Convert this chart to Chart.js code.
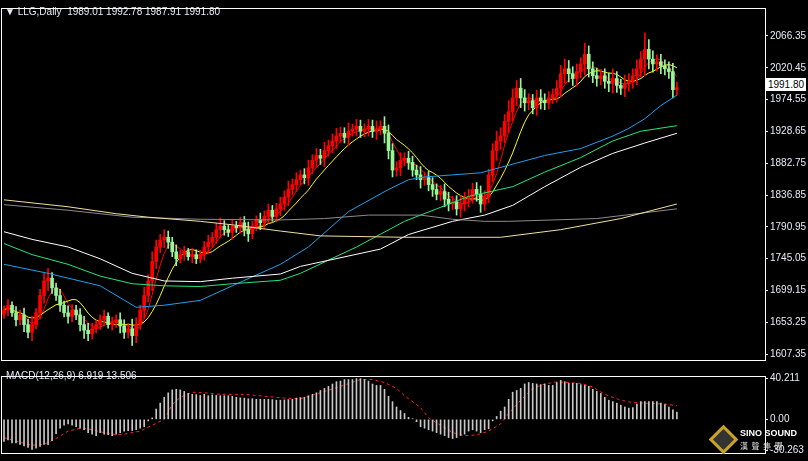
<!DOCTYPE html>
<html>
<head>
<meta charset="utf-8">
<script src="https://cdn.jsdelivr.net/npm/chart.js@4"></script>
<style>
  body { margin: 0; background: #000; width: 808px; height: 461px; overflow: hidden; position: relative; font-family: "Liberation Sans", sans-serif; }
  canvas { position: absolute; left: 0; }
  .lbl { position: absolute; color: #e6ecf5; font-size: 10px; white-space: pre; }
</style>
</head>
<body>
<canvas id="priceChart" width="808" height="368" style="top:0"></canvas>
<canvas id="macdChart" width="808" height="93" style="top:368px"></canvas>
<div class="lbl" style="left:5px;top:6px">▼ LLG,Daily  1989.01 1992.78 1987.91 1991.80</div>
<div class="lbl" style="left:6px;top:370px">MACD(12,26,9) 6.919 13.506</div>
<div style="position:absolute;left:766px;top:78px;width:40px;height:13px;background:#fff;color:#000;font-size:10px;line-height:13px;text-align:center">1991.80</div>
<div style="position:absolute;left:713px;top:429px;width:15px;height:15px;transform:rotate(45deg);border:3px solid #c9a227;background:#333"></div>
<div class="lbl" style="left:740px;top:428px;font-weight:bold;font-size:9px;color:#fff">SINO SOUND</div>
<div class="lbl" style="left:740px;top:440px;font-size:8px;color:#ddd;font-family:'Noto Sans CJK TC'">漢  聲  集  團</div>
<script>
// daily closes
const closes = [1671,1678,1667,1657,1664,1650,1639,1650,1667,1692,
  1713,1717,1703,1692,1678,1667,1662,1671,1664,1650,
  1642,1637,1644,1650,1657,1662,1650,1653,1657,1648,
  1639,1644,1634,1650,1671,1692,1713,1741,1762,1772,
  1776,1769,1755,1745,1751,1755,1748,1751,1745,1751,
  1762,1769,1776,1787,1792,1787,1783,1792,1790,1797,
  1787,1781,1792,1801,1797,1806,1815,1806,1817,1824,
  1834,1845,1852,1859,1866,1862,1876,1887,1894,1890,
  1901,1908,1915,1922,1926,1920,1929,1932,1936,1929,
  1932,1936,1929,1932,1936,1926,1901,1873,1876,1887,
  1890,1884,1873,1866,1859,1862,1852,1845,1838,1842,
  1831,1824,1827,1817,1824,1831,1834,1845,1838,1824,
  1834,1866,1901,1915,1922,1943,1957,1977,1991,1977,
  1970,1973,1963,1977,1973,1970,1977,1982,1991,2012,
  2019,2012,2005,2015,2026,2040,2019,2009,2005,2009,
  2001,1998,2005,1995,1991,1998,2001,2009,2019,2033,
  2047,2033,2026,2029,2023,2019,2015,1989.01,1991.80];
const firstOpen = 1665;
// wick length above/below body
const wicks = [6,8,5,9,7,10,8,12,6,9, 11,14,8,7,9,6,10,8,7,9, 12,10,8,6,7,9,5,8,7,10,
  9,8,14,10,7,12,9,14,10,8, 11,9,7,10,6,8,5,9,7,6, 8,10,7,9,12,8,6,10,7,8,
  9,11,7,6,10,8,9,7,8,10, 9,12,8,10,7,9,11,8,10,9, 12,8,10,11,9,8,12,7,10,9,
  8,10,9,12,8,14,12,10,9,11, 8,10,9,7,12,8,9,10,8,9, 11,10,8,9,12,10,11,9,10,12,
  9,8,10,14,12,10,16,13,11,14, 12,10,9,11,12,10,9,8,11,12, 14,12,10,11,9,16,12,10,11,9,
  10,12,14,10,9,12,11,10,13,11, 24,14,12,10,11,9,10,12,8];

// longer moving averages, sampled at [bar index, value]
const maBlue  = [[0,1737],[11,1724],[24,1706],[33,1675],[40,1678],[49,1685],[57,1706],[69,1737],[76,1762],[86,1813],[96,1845],[101,1859],[105,1863],[119,1869],[135,1894],[144,1904],[152,1922],[156,1933],[160,1947],[164,1966],[168,1981]];
const maGreen = [[0,1767],[7,1751],[16,1737],[24,1720],[32,1709],[40,1706],[49,1705],[57,1709],[69,1714],[74,1724],[88,1762],[100,1799],[108,1817],[116,1835],[127,1849],[135,1870],[144,1891],[152,1915],[159,1929],[168,1937]];
const maWhite = [[0,1784],[7,1773],[16,1762],[24,1745],[32,1724],[40,1713],[49,1712],[57,1717],[69,1723],[74,1734],[94,1759],[101,1780],[112,1799],[120,1808],[127,1822],[135,1849],[144,1877],[152,1897],[160,1912],[168,1926]];
const maTan   = [[0,1830],[16,1820],[28,1810],[36,1805],[49,1799],[57,1794],[69,1785],[79,1778],[100,1776],[124,1776],[139,1787],[154,1803],[168,1824]];
const maGrey  = [[0,1823],[16,1815],[32,1805],[49,1802],[69,1801],[80,1803],[91,1808],[104,1808],[112,1802],[120,1799],[126,1799],[148,1803],[168,1817]];
const priceTicks = [2066.35,2020.45,1974.55,1928.65,1882.75,1836.85,1790.95,1745.05,1699.15,1653.25,1607.35];

// MACD histogram and signal
const macdHist = [-21.8,-20.4,-23.3,-23.3,-24.7,-26.2,-27.6,-29.7,-28.5,-26.8,
  -24.7,-25.0,-21.0,-14.0,-8.7,-5.8,-4.4,-5.8,-7.3,-8.7,
  -10.2,-13.1,-14.6,-16.0,-13.1,-14.6,-15.1,-16.0,-14.6,-13.1,
  -11.6,-11.1,-11.1,-10.2,-8.7,-7.3,-1.5,1.5,10.2,16.0,
  21.8,26.2,29.1,29.7,29.1,27.6,25.6,24.7,24.4,23.6,
  24.7,23.3,24.1,23.6,23.3,23.3,23.3,22.7,21.8,21.2,
  21.0,20.4,20.4,19.8,19.8,19.8,19.8,19.5,18.9,18.9,
  19.2,19.5,19.8,21.0,21.5,21.8,23.3,24.7,26.2,28.5,
  30.6,32.6,34.9,37.2,
  37.8,39.3,39.3,39.3,40.2,40.2,39.3,37.8,34.9,33.5,
  33.5,29.7,22.7,17.5,12.2,8.7,5.8,2.0,0.6,-2.3,
  -7.3,-8.7,-10.2,-11.6,-13.1,-14.6,-16.0,-18.0,-18.9,-18.0,
  -16.0,-14.6,-11.6,-10.2,-11.6,-13.1,-10.2,-9.3,-1.5,2.9,
  8.1,12.2,19.8,26.8,28.5,30.6,34.9,36.4,35.5,34.9,
  34.3,34.9,33.5,33.5,36.4,38.4,37.2,35.5,35.5,35.5,
  34.3,33.5,32.6,29.7,27.6,25.6,21.8,18.9,17.5,16.0,
  14.0,12.2,11.1,11.6,15.1,17.5,17.5,17.5,17.5,17.5,
  16.0,14.6,12.2,9.3,7.3];
const macdSignal = [[0,-18.0],[4,-22.7],[7,-25.6],[10,-24.7],[13,-18.9],[16,-11.6],[19,-8.7],[21,-9.3],[25,-13.1],[28,-15.1],[30,-14.6],[34,-11.6],[37,-5.8],[40,0],[42,14.6],[44,21.8],[47,26.8],[50,26.2],[54,24.7],[60,24.7],[70,21.0],[74,20.4],[79,26.2],[84,32.6],[89,39.3],[92,39.3],[95,36.4],[98,30.6],[100,23.3],[104,11.6],[106,1.5],[109,-5.8],[112,-13.1],[115,-16.0],[118,-15.4],[121,-11.6],[124,-4.4],[126,5.8],[129,18.9],[132,30.6],[135,34.9],[138,37.0],[144,35.5],[147,32.0],[150,24.7],[154,18.9],[157,16.6],[165,15.1],[168,13.5]];
const macdTicks = [40.211, 0, -30.263];

const opens = closes.map((c, i) => i === 0 ? firstOpen : closes[i - 1]);
const upColor = '#ff0000', downColor = '#98f598';
const candleColor = ctx => closes[ctx.dataIndex] >= opens[ctx.dataIndex] ? upColor : downColor;

function movingAvg(n) {
  return closes.map((c, i) => {
    const from = Math.max(0, i - n + 1);
    const part = closes.slice(from, i + 1);
    return { x: i, y: part.reduce((a, b) => a + b, 0) / part.length };
  });
}
const pts = arr => arr.map(p => ({ x: p[0], y: p[1] }));
const line = (data, color, extra) => Object.assign({ type: 'line', data, borderColor: color, borderWidth: 1, pointRadius: 0, tension: 0 }, extra || {});

// white frame around each panel
const framePlugin = {
  id: 'frame',
  afterDraw(chart) {
    const { ctx, chartArea: a } = chart;
    ctx.save();
    ctx.strokeStyle = '#fff';
    ctx.lineWidth = 1;
    ctx.strokeRect(a.left + 0.5, a.top + 0.5, a.right - a.left, a.bottom - a.top);
    ctx.restore();
  }
};

function rightAxis(min, max, ticks, fmt) {
  return {
    position: 'right', min, max,
    afterFit: s => { s.width = 43; },
    afterBuildTicks: s => { s.ticks = ticks.map(v => ({ value: v })); },
    ticks: { color: '#e6ecf5', font: { family: 'Liberation Sans', size: 10 }, padding: 2, callback: fmt },
    grid: { drawOnChartArea: false, color: '#fff', tickLength: 3 },
    border: { color: '#fff' }
  };
}
const xAxis = { type: 'linear', min: -0.75, max: 190, offset: false, display: false };
const baseOpts = {
  responsive: false, animation: false, devicePixelRatio: 1,
  plugins: { legend: { display: false }, tooltip: { enabled: false } },
  datasets: { bar: { grouped: false } }
};

new Chart(document.getElementById('priceChart'), {
  type: 'bar',
  data: {
    datasets: [
      line(pts(maTan), '#f0e0a0'),
      line(pts(maGrey), '#8c8c8c'),
      line(pts(maWhite), '#ffffff'),
      line(pts(maGreen), '#20e878'),
      line(pts(maBlue), '#1ea0f0'),
      { type: 'bar', data: closes.map((c, i) => ({ x: i, y: [Math.min(c, opens[i]) - wicks[i], Math.max(c, opens[i]) + wicks[i]] })),
        backgroundColor: candleColor, barThickness: 1 },
      { type: 'bar', data: closes.map((c, i) => ({ x: i, y: [opens[i], c === opens[i] ? c + 0.8 : c] })),
        backgroundColor: candleColor, barThickness: 3 },
      line(movingAvg(10), '#ffff00'),
      line(movingAvg(5), '#ff0000')
    ]
  },
  options: Object.assign({}, baseOpts, {
    layout: { padding: { left: 1, top: 1, bottom: 1, right: 0 } },
    scales: {
      x: xAxis,
      y: rightAxis(1599.0, 2106.7, priceTicks, v => v.toFixed(2))
    }
  }),
  plugins: [framePlugin]
});

new Chart(document.getElementById('macdChart'), {
  type: 'bar',
  data: {
    datasets: [
      { type: 'bar', data: macdHist.map((v, i) => ({ x: i, y: [0, v] })), backgroundColor: '#c8c8c8', barThickness: 1 },
      line(pts(macdSignal), '#ff2020', { borderDash: [3, 3] })
    ]
  },
  options: Object.assign({}, baseOpts, {
    layout: { padding: { left: 1, top: 2, bottom: 3, right: 0 } },
    scales: {
      x: xAxis,
      y: rightAxis(-33.2, 42.8, macdTicks, v => v === 0 ? '0.00' : v.toFixed(3))
    }
  }),
  plugins: [framePlugin]
});
</script>
</body>
</html>
